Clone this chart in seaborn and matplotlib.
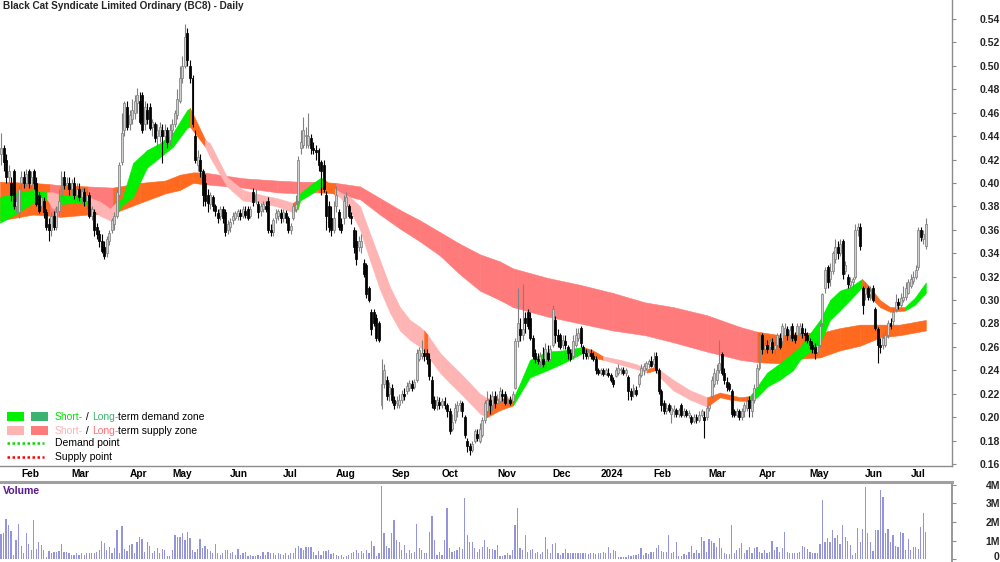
import numpy as np
import matplotlib
matplotlib.use("Agg")
import matplotlib.pyplot as plt
import seaborn as sns
from matplotlib.patches import Rectangle
from matplotlib.lines import Line2D

sns.set_theme(style="white")
plt.rcParams['font.family'] = ['Liberation Sans', 'DejaVu Sans']

# daily candles, prices in 1/1000 $ (Jan 2023 tail ... Jul 2024)
open_ = [425,430,420,405,400,410,380,
    375,400,405,400,410,398,410,400,390,380,385,375,365,360,372,362,376,390,405,398,
    400,395,400,390,395,388,392,385,390,372,375,362,356,350,345,340,350,360,365,372,390,418,445,
    465,450,455,460,468,470,475,450,462,465,448,450,440,440,445,440,445,
    437,445,450,458,470,490,500,528,500,490,440,415,420,410,400,390,382,388,380,374,372,378,375,
    360,362,368,370,372,374,372,376,378,372,392,385,382,376,378,380,385,360,358,370,372,
    374,370,374,370,360,370,378,385,430,432,440,432,438,430,428,428,418,415,390,380,370,
    360,380,375,365,370,380,380,372,360,350,345,345,332,330,310,290,290,285,280,210,228,232,
    220,225,215,212,210,215,220,222,225,228,226,232,250,252,255,255,250,232,215,210,
    213,210,214,210,205,190,198,205,210,212,200,180,175,172,180,186,180,185,198,205,215,210,
    218,212,214,220,220,212,215,214,225,265,275,270,285,290,285,268,255,250,248,250,248,255,
    250,262,283,270,270,262,265,260,255,252,262,268,276,260,255,252,255,252,250,
    240,238,240,237,238,236,232,235,238,240,240,238,234,222,220,223,228,236,240,242,245,
    248,245,252,240,222,212,205,210,203,205,206,203,210,202,205,202,200,197,200,198,202,200,
    200,208,218,228,232,240,254,238,230,228,222,205,202,205,200,205,208,215,205,215,
    226,242,270,258,262,260,264,258,262,268,265,270,275,270,278,270,270,272,276,272,
    270,265,262,260,256,262,280,310,328,318,325,335,345,340,350,325,320,313,315,320,360,362,
    310,305,310,305,310,292,275,262,262,262,270,280,282,292,298,296,300,303,
    306,312,316,320,328,360,352,346]
high_ = [443,432,425,415,405,412,390,
    398,410,410,412,412,410,412,405,392,392,388,378,370,375,376,380,395,410,410,405,
    405,403,405,400,400,396,396,394,392,380,378,366,360,356,350,355,360,370,375,395,418,460,470,
    470,462,472,475,481,478,478,470,468,468,455,452,450,452,450,450,448,
    450,455,462,480,500,508,536,532,505,492,445,428,425,412,408,395,392,390,382,378,380,380,378,
    368,370,375,376,378,378,380,380,380,380,396,395,385,383,385,385,388,365,370,378,378,
    378,378,377,372,366,383,390,423,445,456,448,460,442,435,432,430,420,420,393,385,380,
    385,397,378,370,390,392,382,375,362,360,355,356,335,332,312,292,292,288,282,250,245,235,
    230,228,218,218,220,223,225,230,232,232,233,258,260,266,258,258,255,235,218,218,
    217,216,217,212,208,203,212,214,215,214,202,182,178,180,190,190,195,200,215,222,220,222,
    222,220,226,224,222,218,218,222,268,310,285,314,290,292,290,270,258,255,256,260,263,262,
    262,296,286,275,272,270,270,262,258,270,276,276,278,262,258,258,258,256,252,
    242,242,242,242,242,238,234,243,245,243,243,242,236,225,228,227,238,245,246,248,250,
    252,256,256,242,224,215,212,212,210,210,208,208,212,208,207,206,202,203,203,205,207,205,
    210,212,235,242,245,266,256,242,234,230,224,207,208,207,208,213,217,218,220,228,
    245,272,272,268,266,268,268,266,272,272,280,280,278,278,280,273,280,280,280,276,
    273,268,265,263,265,280,306,328,330,332,342,352,350,352,352,333,322,320,320,365,366,366,
    312,315,312,312,313,294,277,268,272,274,283,285,292,305,302,306,312,315,
    318,322,325,330,362,362,360,370]
low_ = [415,410,400,400,385,378,375,
    370,395,396,397,396,395,395,380,374,378,370,360,350,355,360,360,372,388,395,394,
    390,390,386,385,385,383,380,378,370,368,355,352,345,340,335,337,347,357,360,370,388,415,440,
    445,445,450,455,460,450,443,445,450,445,440,435,430,435,417,435,430,
    432,440,448,455,468,485,498,500,485,448,417,410,405,380,380,375,378,376,372,366,368,366,355,
    356,358,365,368,368,368,370,370,368,370,380,382,370,372,375,375,357,355,355,366,368,
    366,367,366,357,356,368,375,383,425,430,430,430,425,425,420,410,390,392,360,358,355,
    357,375,360,357,365,370,370,365,340,330,342,340,320,302,298,270,278,265,264,207,225,215,
    214,212,207,208,208,212,215,220,222,222,224,230,248,250,248,245,232,208,206,206,
    207,208,207,200,186,188,195,200,205,200,182,170,168,170,178,180,178,183,195,200,203,206,
    208,210,212,214,210,210,210,212,224,260,265,266,272,275,266,250,246,245,243,243,243,248,
    248,260,263,260,258,258,258,250,248,250,260,265,260,250,250,250,250,248,237,
    236,236,235,236,234,230,226,234,236,237,236,235,215,215,217,218,226,234,236,240,242,
    243,243,238,220,205,203,203,204,195,200,200,200,200,200,200,199,194,195,195,196,200,182,
    198,205,216,226,228,238,236,228,222,222,200,200,200,198,198,200,205,200,200,212,
    224,240,254,255,255,257,255,254,260,258,262,266,266,266,265,263,268,270,268,265,
    263,258,255,250,253,260,278,306,310,312,322,332,335,338,318,322,310,310,311,318,355,343,
    288,300,300,300,298,274,246,255,258,260,268,275,278,290,292,294,298,300,
    305,310,314,318,326,350,348,344]
close_ = [430,418,405,410,390,380,385,
    395,405,400,408,400,405,400,382,376,388,375,362,360,372,362,375,385,405,398,400,
    395,400,390,395,388,393,385,390,372,378,360,356,350,342,338,352,357,368,372,392,415,443,468,
    448,458,462,470,475,452,445,465,455,447,452,438,445,448,440,445,435,
    445,450,460,472,490,500,525,505,490,450,420,422,410,390,385,383,390,380,376,370,378,370,358,
    365,367,372,374,376,372,378,373,370,378,384,390,375,380,382,378,360,358,368,374,376,
    370,375,370,360,363,380,382,420,435,445,440,440,430,428,426,415,410,395,372,362,360,
    370,390,362,360,385,388,372,370,345,335,350,350,322,305,300,275,280,268,266,228,240,218,
    226,215,210,214,215,220,218,227,229,225,230,255,257,255,252,250,235,212,208,215,
    210,214,210,205,188,196,208,210,212,205,185,175,172,177,188,182,190,198,212,215,210,218,
    212,215,222,218,212,215,212,220,265,280,270,275,280,278,268,252,250,248,252,245,258,250,
    258,292,270,265,260,266,262,255,250,265,270,272,263,255,252,256,252,250,240,
    238,240,237,240,236,232,228,240,242,240,238,240,222,218,225,220,236,242,244,246,248,
    244,250,240,222,210,205,208,206,208,207,203,206,202,205,202,203,196,200,198,202,205,198,
    208,210,232,238,240,246,238,232,226,224,203,202,205,200,205,210,214,208,215,225,
    242,270,258,262,258,265,258,262,270,260,278,276,270,274,268,266,278,278,272,270,
    266,262,258,255,262,278,305,326,315,325,340,345,340,348,322,330,314,316,318,360,362,346,
    296,310,303,308,300,276,262,260,268,270,280,278,290,298,296,302,303,310,
    315,318,320,326,360,354,356,365]

# volume in thousands of shares
volume_k = [1344,1380,2186,1828,1523,215,1021,1882,699,305,1380,806,484,2097,520,932,753,484,90,430,
    340,394,394,448,806,394,394,340,215,215,340,215,305,215,305,340,340,340,394,484,
    968,878,484,627,340,573,1559,305,1774,520,448,753,806,305,932,1165,1057,394,932,699,
    340,448,573,305,520,484,161,161,484,1290,1165,1165,1380,1021,1469,1111,484,394,520,1075,
    573,699,520,448,340,806,305,215,305,484,484,340,394,215,520,215,305,394,161,215,
    161,161,215,161,394,215,394,305,305,215,305,269,215,340,215,305,305,573,699,573,
    484,627,627,627,394,215,448,215,448,448,484,269,305,215,161,215,125,161,215,305,
    394,484,305,448,340,484,305,968,699,161,305,3924,1380,699,573,1380,2133,1021,932,484,
    753,340,484,340,394,1882,573,484,340,305,1469,2312,1021,215,394,215,1021,2760,573,394,
    448,484,663,520,3315,1290,932,932,573,394,520,627,1021,627,520,520,484,753,
    161,161,215,305,215,484,1828,2778,573,484,1290,394,484,538,305,394,269,394,1165,538,
    305,806,878,340,215,305,520,305,305,340,305,305,340,305,340,269,305,305,269,340,
    305,394,305,663,340,484,448,90,90,90,90,215,161,215,215,269,573,215,305,269,
    394,394,573,753,448,394,358,1290,305,394,932,161,161,269,215,394,699,340,484,305,
    1200,986,394,1075,986,842,663,1111,573,305,269,269,1828,305,484,573,842,305,484,627,
    340,573,663,394,340,484,305,394,986,484,627,394,573,1469,394,340,340,305,305,394,
    699,627,520,394,305,305,305,806,3172,932,1111,932,1559,1111,1290,806,1828,1165,986,753,
    215,305,1702,932,1613,3889,1416,932,448,1559,1595,3745,3351,1416,1649,932,1290,699,663,1469,
    1380,484,1057,484,663,627,520,1738,2509,1469]

month_ticks = [7, 27, 50, 67, 90, 111, 132, 154, 174, 196, 218, 237, 258, 280, 300, 320, 342, 360]
month_labels = ['Feb', 'Mar', 'Apr', 'May', 'Jun', 'Jul', 'Aug', 'Sep', 'Oct', 'Nov', 'Dec',
                '2024', 'Feb', 'Mar', 'Apr', 'May', 'Jun', 'Jul']

# short-term ribbon (day index, top, bottom, colour of following stretch)
short_x = [-0.4, 6.3, 12.7, 18.3, 20.6, 23.4, 29.4, 34.5, 39.3, 43.3,
    46.0, 48.0, 52.4, 57.9, 63.1, 68.3, 73.8, 75.0, 81.0, 82.9,
    89.7, 96.0, 102.8, 109.5, 115.9, 117.9, 118.7, 122.6, 126.6, 127.8,
    132.5, 134.5, 138.5, 142.5, 146.4, 150.4, 154.4, 158.3, 162.3, 166.3,
    167.9, 169.4, 174.2, 178.2, 182.1, 186.1, 190.1, 192.9, 198.0, 203.2,
    206.0, 209.9, 216.7, 223.0, 231.0, 234.9, 238.9, 245.6, 252.4, 256.3,
    259.5, 261.5, 266.7, 273.4, 280.2, 285.3, 289.3, 293.3, 297.2, 300.0,
    304.0, 309.1, 314.3, 317.1, 325.0, 329.0, 332.9, 336.9, 341.7, 344.8,
    348.8, 352.8, 358.7, 362.7, 367.0]
short_top = [.388,.392,.394,.392,.392,.390,.389,.388,.384,.378,
    .384,.386,.417,.428,.434,.443,.462,.464,.437,.434,
    .405,.394,.390,.387,.383,.386,.391,.398,.404,.404,
    .395,.392,.388,.380,.357,.334,.311,.294,.283,.277,
    .274,.270,.255,.246,.238,.229,.220,.216,.216,.216,
    .229,.249,.256,.257,.260,.257,.252,.249,.245,.241,
    .243,.240,.232,.223,.217,.221,.219,.217,.218,.226,
    .238,.246,.255,.260,.283,.300,.308,.311,.318,.311,
    .300,.294,.294,.302,.315]
short_bot = [.366,.374,.383,.386,.378,.382,.383,.382,.372,.368,
    .373,.381,.388,.413,.422,.431,.447,.448,.431,.422,
    .397,.385,.383,.380,.375,.378,.385,.390,.396,.398,
    .390,.388,.377,.360,.334,.309,.289,.274,.266,.260,
    .256,.252,.238,.229,.221,.212,.203,.200,.206,.210,
    .220,.234,.240,.246,.255,.251,.249,.245,.241,.238,
    .240,.234,.223,.215,.209,.217,.215,.214,.214,.217,
    .226,.232,.240,.249,.263,.283,.291,.300,.311,.303,
    .294,.290,.291,.296,.306]
short_col = "GGGPPGGPPPGGGGGGGOPPPPPPOGGGGOPPPPPPPPPPOPPPPPPOOGGGGGOOPPPOPPPPOOOOGGGGGGGGGGOOOOGG"

# long-term ribbon
long_x = [-0.4, 12.7, 19.4, 23.4, 34.5, 44.4, 55.2, 65.1, 71.0, 76.2,
    80.2, 96.0, 109.5, 118.7, 125.8, 132.9, 142.5, 150.4, 158.3, 166.3,
    174.2, 182.1, 190.1, 198.0, 203.2, 216.7, 229.8, 242.9, 255.6, 266.7,
    280.2, 293.3, 300.0, 309.1, 317.1, 325.0, 332.9, 340.9, 348.8, 356.7,
    367.0]
long_top = [.401,.400,.399,.398,.397,.396,.400,.402,.407,.409,
    .409,.404,.402,.401,.401,.400,.397,.387,.377,.368,
    .358,.348,.339,.333,.327,.319,.313,.306,.298,.294,
    .287,.277,.273,.270,.272,.272,.276,.279,.279,.279,
    .283]
long_bot = [.368,.373,.372,.371,.373,.374,.383,.391,.394,.400,
    .399,.396,.392,.391,.392,.391,.386,.373,.361,.350,
    .338,.322,.308,.300,.294,.286,.280,.274,.270,.264,
    .256,.249,.247,.246,.250,.251,.257,.261,.268,.270,
    .274]
long_col = "OOROROOOOORRRRORRRRRRRRRRRRRRRRROOOOOOOO"

ribbon_colors = {'G': '#00F000', 'P': '#FFB4B4', 'O': '#FF6A1F', 'R': '#FF7A7A', 'L': '#3CB371'}

o = np.array(open_) / 1000
h = np.array(high_) / 1000
l = np.array(low_) / 1000
c = np.array(close_) / 1000
vol = np.array(volume_k) / 1000
idx = np.arange(len(c))

W, H = 1000, 562
fig = plt.figure(figsize=(W / 100, H / 100), dpi=100)
ax = fig.add_axes([0, 1 - 466 / H, 952 / W, 466 / H])
axv = fig.add_axes([0, 0, 952 / W, 80 / H])


def fx(px):
    return px / W


def fy(py):
    return 1 - py / H


def ribbon(xs, tops, bots, cols):
    for k in range(len(xs) - 1):
        col = ribbon_colors[cols[k]]
        ax.fill_between(xs[k:k + 2], bots[k:k + 2], tops[k:k + 2], color=col,
                        linewidth=0.4, edgecolor=col, zorder=1)


ribbon(long_x, long_top, long_bot, long_col)
ribbon(short_x, short_top, short_bot, short_col)

up = c >= o
wick_col = np.where(up, '#808080', '#000000')
ax.vlines(idx, l, h, colors=wick_col, linewidth=0.8, zorder=3)
body_h = np.maximum(np.abs(c - o), 0.0012)
ax.bar(idx[up], body_h[up], bottom=np.minimum(o, c)[up], width=0.78,
       color='#d0d0d0', edgecolor='#808080', linewidth=0.55, zorder=4)
ax.bar(idx[~up], body_h[~up], bottom=np.minimum(o, c)[~up], width=0.78,
       color='black', edgecolor='black', linewidth=0.55, zorder=4)

ax.set_xlim(-0.4, 377.4)
ax.set_ylim(0.1583, 0.5562)
for side in ['top', 'left']:
    ax.spines[side].set_visible(False)
for side in ['right', 'bottom']:
    ax.spines[side].set_color('#8c8c8c')
    ax.spines[side].set_linewidth(1.0)

ax.yaxis.tick_right()
yt = np.arange(0.16, 0.5401, 0.02)
ax.set_yticks(yt, ['%.2f' % v for v in yt])
ax.tick_params(axis='y', direction='out', length=3, width=0.8, color='#8c8c8c',
               pad=31.5, labelsize=7.5)
plt.setp(ax.get_yticklabels(), ha='right', fontweight='bold')

ax.set_xticks(month_ticks)
ax.set_xticklabels([])
ax.tick_params(axis='x', direction='in', length=3, width=0.8, color='#8c8c8c')
for t, lab in zip(month_ticks, month_labels):
    ax.text(t + 0.9, -0.007, lab, transform=ax.get_xaxis_transform(), ha='left', va='top',
            fontsize=7.3, fontweight='bold', color='black', clip_on=False)

# volume panel
axv.bar(idx, vol, width=0.5, color='#9494dc', linewidth=0)
axv.set_xlim(-0.4, 377.4)
axv.set_ylim(-0.16, 4.16)
axv.set_xticks([])
for side in ['left', 'bottom']:
    axv.spines[side].set_visible(False)
axv.spines['top'].set_color('#a0a0a0')
axv.spines['top'].set_linewidth(2.2)
axv.spines['right'].set_color('#8c8c8c')
axv.yaxis.tick_right()
axv.set_yticks([0, 1, 2, 3, 4], ['', '1M', '2M', '3M', '4M'])
axv.tick_params(axis='y', direction='out', length=3, width=0.8, color='#8c8c8c',
                pad=31.5, labelsize=7.5)
plt.setp(axv.get_yticklabels(), ha='right', fontweight='bold')
# the zero label sits on the bottom edge; keep it just inside the picture
fig.text(fx(999), fy(556.5), '0', fontsize=7.5, fontweight='bold', ha='right', va='center')

fig.text(fx(3), fy(490.5), 'Volume', color='#5B1A8E', fontsize=7.6, fontweight='bold', va='center')
fig.text(fx(3), fy(1), 'Black Cat Syndicate Limited Ordinary (BC8) - Daily', fontsize=7.2,
         fontweight='bold', va='top', ha='left')

# legend
for (x0, y0, col) in [(7, 412, '#00F000'), (31, 412, '#3CB371'), (7, 426, '#FFB4B4'), (31, 426, '#FF7A7A')]:
    fig.patches.append(Rectangle((fx(x0), fy(y0 + 9)), 17 / W, 9 / H, transform=fig.transFigure,
                                 facecolor=col, edgecolor='none'))
fig.lines.append(Line2D([fx(7), fx(44)], [fy(443), fy(443)], transform=fig.transFigure,
                        color='#00E000', linewidth=1.8, linestyle=(0, (1, 1))))
fig.lines.append(Line2D([fx(7), fx(44)], [fy(456.5), fy(456.5)], transform=fig.transFigure,
                        color='#FF0000', linewidth=1.8, linestyle=(0, (1, 1))))


def legend_line(y, pieces):
    prev = None
    for s, col in pieces:
        if prev is None:
            prev = ax.text(fx(55), fy(y), s, transform=fig.transFigure, color=col, fontsize=7.5,
                           va='center', ha='left')
        else:
            prev = ax.annotate(s, xy=(1, 0), xycoords=prev, color=col, fontsize=7.5,
                               va='bottom', ha='left', annotation_clip=False)


legend_line(416.5, [('Short-', '#00E000'), (' / ', 'black'), ('Long-', '#3CB371'),
                    ('term demand zone', 'black')])
legend_line(430.5, [('Short-', '#FFB4B4'), (' / ', 'black'), ('Long-', '#FF7070'),
                    ('term supply zone', 'black')])
legend_line(443.5, [('Demand point', 'black')])
legend_line(457, [('Supply point', 'black')])

fig.savefig('out.png', dpi=100)
